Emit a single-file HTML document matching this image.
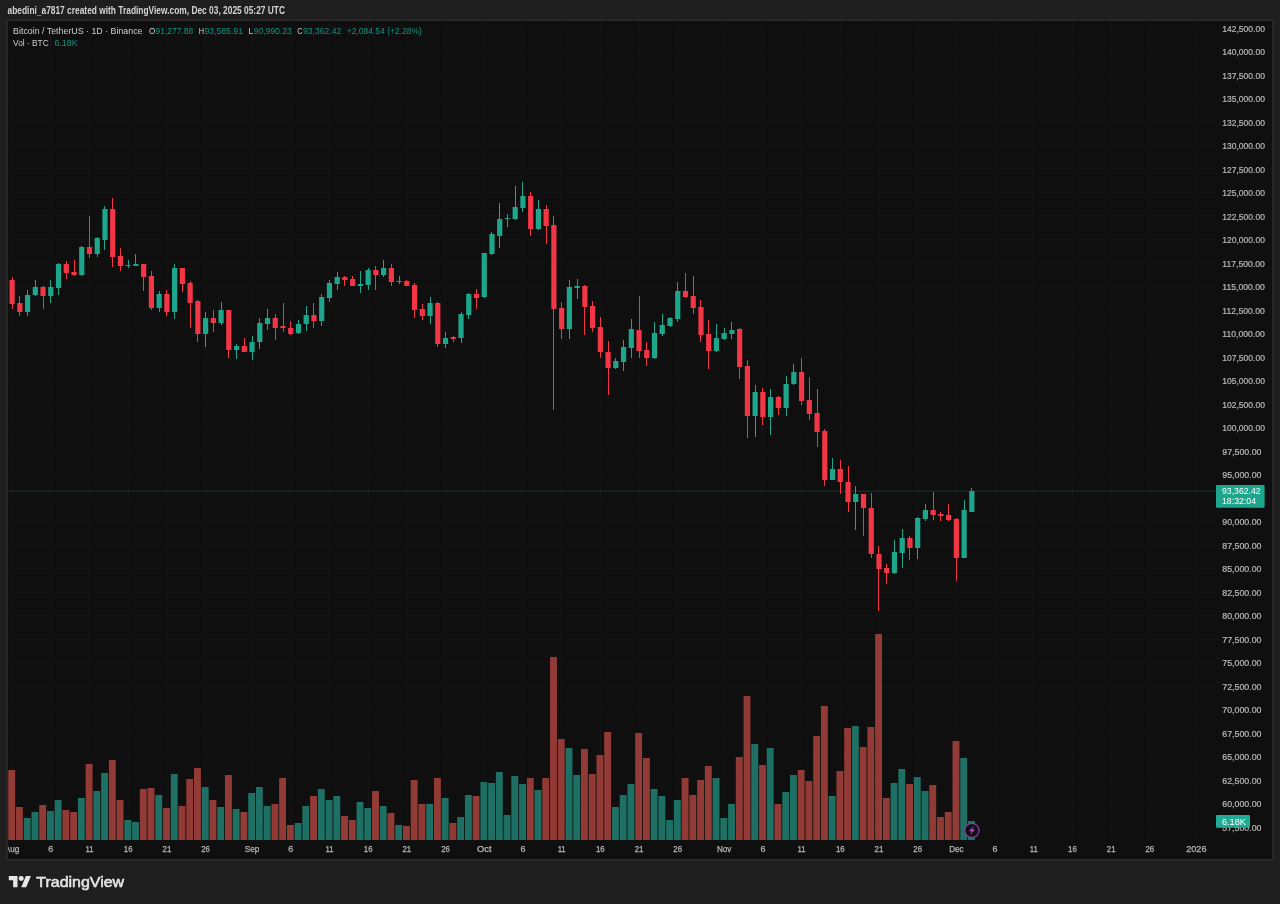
<!DOCTYPE html><html><head><meta charset="utf-8"><style>
html,body{margin:0;padding:0;width:1280px;height:904px;overflow:hidden;background:#1e1e1e;}
svg{display:block;font-family:"Liberation Sans",sans-serif;will-change:transform;}
</style></head><body>
<svg width="1280" height="904" viewBox="0 0 1280 904">
<text x="7.50" y="13.60" font-size="10.3" fill="#d4d4d4" font-weight="bold" textLength="277.50" lengthAdjust="spacingAndGlyphs">abedini_a7817 created with TradingView.com, Dec 03, 2025 05:27 UTC</text>
<rect x="6" y="19" width="1268" height="842" fill="#282828"/>
<rect x="8" y="21" width="1264" height="838" fill="#0f0f0f"/>
<svg x="8" y="21" width="1264" height="838" viewBox="8 21 1264 838" overflow="hidden">
<path d="M12.5 21V840M50.5 21V840M89.5 21V840M128.5 21V840M166.5 21V840M205.5 21V840M252.5 21V840M290.5 21V840M329.5 21V840M368.5 21V840M406.5 21V840M445.5 21V840M484.5 21V840M522.5 21V840M561.5 21V840M600.5 21V840M639.5 21V840M677.5 21V840M724.5 21V840M762.5 21V840M801.5 21V840M840.5 21V840M878.5 21V840M917.5 21V840M956.5 21V840M995.5 21V840M1033.5 21V840M1072.5 21V840M1111.5 21V840M1149.5 21V840M1196.5 21V840" stroke="#141414" stroke-width="1" fill="none" shape-rendering="crispEdges"/>
<path d="M8 27.5H1215M8 51.5H1215M8 74.5H1215M8 98.5H1215M8 121.5H1215M8 145.5H1215M8 168.5H1215M8 192.5H1215M8 215.5H1215M8 239.5H1215M8 262.5H1215M8 286.5H1215M8 309.5H1215M8 333.5H1215M8 356.5H1215M8 380.5H1215M8 403.5H1215M8 427.5H1215M8 450.5H1215M8 474.5H1215M8 498.5H1215M8 521.5H1215M8 545.5H1215M8 568.5H1215M8 592.5H1215M8 615.5H1215M8 639.5H1215M8 662.5H1215M8 686.5H1215M8 709.5H1215M8 733.5H1215M8 756.5H1215M8 780.5H1215M8 803.5H1215M8 827.5H1215" stroke="#121212" stroke-width="1" fill="none" shape-rendering="crispEdges"/>
<path d="M23.73 818h6.9V840h-6.9ZM31.47 812h6.9V840h-6.9ZM46.95 811h6.9V840h-6.9ZM54.69 800h6.9V840h-6.9ZM77.91 798h6.9V840h-6.9ZM93.39 791h6.9V840h-6.9ZM101.13 773h6.9V840h-6.9ZM124.35 820h6.9V840h-6.9ZM132.09 822h6.9V840h-6.9ZM155.31 795h6.9V840h-6.9ZM170.79 774h6.9V840h-6.9ZM201.75 787h6.9V840h-6.9ZM217.23 807h6.9V840h-6.9ZM232.71 809h6.9V840h-6.9ZM248.19 793h6.9V840h-6.9ZM255.93 787h6.9V840h-6.9ZM263.67 806h6.9V840h-6.9ZM294.63 823h6.9V840h-6.9ZM302.37 806h6.9V840h-6.9ZM317.85 789h6.9V840h-6.9ZM325.59 800h6.9V840h-6.9ZM333.33 796h6.9V840h-6.9ZM356.55 802h6.9V840h-6.9ZM364.29 808h6.9V840h-6.9ZM379.77 806h6.9V840h-6.9ZM395.25 825h6.9V840h-6.9ZM426.21 804h6.9V840h-6.9ZM441.69 798h6.9V840h-6.9ZM457.17 817h6.9V840h-6.9ZM464.91 795h6.9V840h-6.9ZM480.39 782h6.9V840h-6.9ZM488.13 783h6.9V840h-6.9ZM495.87 772h6.9V840h-6.9ZM503.61 815h6.9V840h-6.9ZM511.35 776h6.9V840h-6.9ZM519.09 784h6.9V840h-6.9ZM534.57 790h6.9V840h-6.9ZM565.53 748h6.9V840h-6.9ZM573.27 775h6.9V840h-6.9ZM611.97 807h6.9V840h-6.9ZM619.71 795h6.9V840h-6.9ZM627.45 784h6.9V840h-6.9ZM650.67 789h6.9V840h-6.9ZM658.41 796h6.9V840h-6.9ZM666.15 820h6.9V840h-6.9ZM673.89 800h6.9V840h-6.9ZM712.59 778h6.9V840h-6.9ZM720.33 818h6.9V840h-6.9ZM728.07 804h6.9V840h-6.9ZM751.29 744h6.9V840h-6.9ZM766.77 748h6.9V840h-6.9ZM782.25 792h6.9V840h-6.9ZM789.99 775h6.9V840h-6.9ZM828.69 796h6.9V840h-6.9ZM851.91 726h6.9V840h-6.9ZM890.61 783h6.9V840h-6.9ZM898.35 769h6.9V840h-6.9ZM913.83 777h6.9V840h-6.9ZM921.57 791h6.9V840h-6.9ZM960.27 758h6.9V840h-6.9ZM968.01 821h6.9V840h-6.9Z" fill="#1d7063"/>
<path d="M8.25 770h6.9V840h-6.9ZM15.99 807h6.9V840h-6.9ZM39.21 805h6.9V840h-6.9ZM62.43 810h6.9V840h-6.9ZM70.17 812h6.9V840h-6.9ZM85.65 764h6.9V840h-6.9ZM108.87 760h6.9V840h-6.9ZM116.61 800h6.9V840h-6.9ZM139.83 789h6.9V840h-6.9ZM147.57 788h6.9V840h-6.9ZM163.05 808h6.9V840h-6.9ZM178.53 806h6.9V840h-6.9ZM186.27 779h6.9V840h-6.9ZM194.01 768h6.9V840h-6.9ZM209.49 800h6.9V840h-6.9ZM224.97 775h6.9V840h-6.9ZM240.45 812h6.9V840h-6.9ZM271.41 804h6.9V840h-6.9ZM279.15 778h6.9V840h-6.9ZM286.89 825h6.9V840h-6.9ZM310.11 796h6.9V840h-6.9ZM341.07 816h6.9V840h-6.9ZM348.81 820h6.9V840h-6.9ZM372.03 791h6.9V840h-6.9ZM387.51 813h6.9V840h-6.9ZM402.99 826h6.9V840h-6.9ZM410.73 780h6.9V840h-6.9ZM418.47 804h6.9V840h-6.9ZM433.95 778h6.9V840h-6.9ZM449.43 823h6.9V840h-6.9ZM472.65 796h6.9V840h-6.9ZM526.83 778h6.9V840h-6.9ZM542.31 778h6.9V840h-6.9ZM550.05 657h6.9V840h-6.9ZM557.79 739h6.9V840h-6.9ZM581.01 749h6.9V840h-6.9ZM588.75 774h6.9V840h-6.9ZM596.49 755h6.9V840h-6.9ZM604.23 732h6.9V840h-6.9ZM635.19 733h6.9V840h-6.9ZM642.93 758h6.9V840h-6.9ZM681.63 778h6.9V840h-6.9ZM689.37 795h6.9V840h-6.9ZM697.11 780h6.9V840h-6.9ZM704.85 766h6.9V840h-6.9ZM735.81 757h6.9V840h-6.9ZM743.55 696h6.9V840h-6.9ZM759.03 765h6.9V840h-6.9ZM774.51 804h6.9V840h-6.9ZM797.73 770h6.9V840h-6.9ZM805.47 781h6.9V840h-6.9ZM813.21 736h6.9V840h-6.9ZM820.95 706h6.9V840h-6.9ZM836.43 771h6.9V840h-6.9ZM844.17 728h6.9V840h-6.9ZM859.65 747h6.9V840h-6.9ZM867.39 727h6.9V840h-6.9ZM875.13 634h6.9V840h-6.9ZM882.87 798h6.9V840h-6.9ZM906.09 784h6.9V840h-6.9ZM929.31 785h6.9V840h-6.9ZM937.05 817h6.9V840h-6.9ZM944.79 812h6.9V840h-6.9ZM952.53 741h6.9V840h-6.9Z" fill="#923a36"/>
<path d="M8 491.2H1216" stroke="#1ea68c" stroke-width="1.6" opacity="0.19"/>
<path d="M27 290h1V316h-1ZM24.98 295h5.2V312h-5.2ZM35 280h1V296h-1ZM32.72 287h5.2V295h-5.2ZM50 280h1V303h-1ZM48.20 287h5.2V296h-5.2ZM58 263h1V295h-1ZM55.94 264h5.2V288h-5.2ZM81 246h1V276h-1ZM79.16 247h5.2V275h-5.2ZM97 237h1V257h-1ZM94.64 238h5.2V254h-5.2ZM104 206h1V250h-1ZM102.38 209h5.2V240h-5.2ZM128 260h1V268h-1ZM125.60 265h5.2V266h-5.2ZM135 254h1V266h-1ZM133.34 264h5.2V266h-5.2ZM159 291h1V312h-1ZM156.56 294h5.2V308h-5.2ZM174 264h1V319h-1ZM172.04 268h5.2V312h-5.2ZM205 312h1V347h-1ZM203.00 318h5.2V334h-5.2ZM221 302h1V325h-1ZM218.48 310h5.2V323h-5.2ZM236 344h1V359h-1ZM233.96 346h5.2V350h-5.2ZM252 336h1V360h-1ZM249.44 342h5.2V352h-5.2ZM259 318h1V349h-1ZM257.18 323h5.2V342h-5.2ZM267 309h1V330h-1ZM264.92 318h5.2V324h-5.2ZM298 320h1V334h-1ZM295.88 324h5.2V333h-5.2ZM306 306h1V331h-1ZM303.62 315h5.2V324h-5.2ZM321 294h1V326h-1ZM319.10 297h5.2V321h-5.2ZM329 280h1V302h-1ZM326.84 283h5.2V298h-5.2ZM337 272h1V290h-1ZM334.58 277h5.2V284h-5.2ZM360 271h1V293h-1ZM357.80 284h5.2V286h-5.2ZM368 268h1V290h-1ZM365.54 270h5.2V285h-5.2ZM383 260h1V277h-1ZM381.02 268h5.2V275h-5.2ZM399 276h1V284h-1ZM396.50 281h5.2V282h-5.2ZM430 297h1V324h-1ZM427.46 303h5.2V316h-5.2ZM445 332h1V348h-1ZM442.94 338h5.2V344h-5.2ZM461 312h1V343h-1ZM458.42 314h5.2V338h-5.2ZM468 293h1V319h-1ZM466.16 294h5.2V315h-5.2ZM484 253h1V298h-1ZM481.64 253h5.2V297h-5.2ZM491 232h1V255h-1ZM489.38 234h5.2V254h-5.2ZM499 203h1V248h-1ZM497.12 219h5.2V236h-5.2ZM507 214h1V227h-1ZM504.86 218h5.2V219h-5.2ZM515 186h1V220h-1ZM512.60 207h5.2V219h-5.2ZM522 182h1V212h-1ZM520.34 196h5.2V208h-5.2ZM538 200h1V230h-1ZM535.82 209h5.2V229h-5.2ZM569 280h1V339h-1ZM566.78 287h5.2V329h-5.2ZM577 279h1V299h-1ZM574.52 286h5.2V288h-5.2ZM615 358h1V369h-1ZM613.22 361h5.2V368h-5.2ZM623 340h1V371h-1ZM620.96 347h5.2V362h-5.2ZM631 319h1V358h-1ZM628.70 329h5.2V348h-5.2ZM654 322h1V359h-1ZM651.92 333h5.2V358h-5.2ZM662 314h1V336h-1ZM659.66 325h5.2V334h-5.2ZM670 317h1V327h-1ZM667.40 318h5.2V326h-5.2ZM677 282h1V322h-1ZM675.14 291h5.2V319h-5.2ZM716 324h1V352h-1ZM713.84 338h5.2V351h-5.2ZM724 328h1V340h-1ZM721.58 333h5.2V339h-5.2ZM731 322h1V339h-1ZM729.32 330h5.2V334h-5.2ZM755 385h1V437h-1ZM752.54 392h5.2V416h-5.2ZM770 389h1V435h-1ZM768.02 397h5.2V417h-5.2ZM786 376h1V416h-1ZM783.50 384h5.2V408h-5.2ZM793 364h1V385h-1ZM791.24 372h5.2V384h-5.2ZM832 458h1V480h-1ZM829.94 469h5.2V480h-5.2ZM855 486h1V530h-1ZM853.16 494h5.2V502h-5.2ZM894 540h1V574h-1ZM891.86 552h5.2V573h-5.2ZM902 529h1V568h-1ZM899.60 538h5.2V553h-5.2ZM917 517h1V559h-1ZM915.08 518h5.2V548h-5.2ZM925 504h1V521h-1ZM922.82 510h5.2V519h-5.2ZM964 500h1V558h-1ZM961.52 510h5.2V558h-5.2ZM971 488h1V512h-1ZM969.26 491h5.2V512h-5.2Z" fill="#1ea68c"/>
<path d="M12 277h1V309h-1ZM9.50 280h5.2V304h-5.2ZM19 296h1V316h-1ZM17.24 303h5.2V312h-5.2ZM43 286h1V309h-1ZM40.46 287h5.2V296h-5.2ZM66 261h1V279h-1ZM63.68 264h5.2V273h-5.2ZM74 260h1V276h-1ZM71.42 272h5.2V275h-5.2ZM89 216h1V258h-1ZM86.90 247h5.2V254h-5.2ZM112 198h1V267h-1ZM110.12 209h5.2V257h-5.2ZM120 248h1V271h-1ZM117.86 256h5.2V266h-5.2ZM143 264h1V291h-1ZM141.08 264h5.2V277h-5.2ZM151 271h1V310h-1ZM148.82 276h5.2V308h-5.2ZM166 290h1V316h-1ZM164.30 294h5.2V312h-5.2ZM182 268h1V292h-1ZM179.78 268h5.2V284h-5.2ZM190 281h1V328h-1ZM187.52 283h5.2V303h-5.2ZM197 300h1V342h-1ZM195.26 301h5.2V334h-5.2ZM213 310h1V332h-1ZM210.74 318h5.2V323h-5.2ZM228 310h1V358h-1ZM226.22 310h5.2V350h-5.2ZM244 338h1V352h-1ZM241.70 346h5.2V352h-5.2ZM275 314h1V340h-1ZM272.66 318h5.2V328h-5.2ZM283 303h1V332h-1ZM280.40 326h5.2V328h-5.2ZM290 321h1V335h-1ZM288.14 328h5.2V334h-5.2ZM313 303h1V328h-1ZM311.36 315h5.2V321h-5.2ZM344 276h1V286h-1ZM342.32 277h5.2V280h-5.2ZM352 276h1V286h-1ZM350.06 279h5.2V286h-5.2ZM375 266h1V290h-1ZM373.28 270h5.2V275h-5.2ZM391 264h1V286h-1ZM388.76 268h5.2V282h-5.2ZM406 280h1V286h-1ZM404.24 281h5.2V286h-5.2ZM414 283h1V318h-1ZM411.98 285h5.2V310h-5.2ZM422 304h1V320h-1ZM419.72 309h5.2V316h-5.2ZM437 302h1V347h-1ZM435.20 303h5.2V344h-5.2ZM453 336h1V342h-1ZM450.68 337h5.2V339h-5.2ZM476 289h1V309h-1ZM473.90 294h5.2V298h-5.2ZM530 192h1V236h-1ZM528.08 196h5.2V229h-5.2ZM546 205h1V244h-1ZM543.56 209h5.2V226h-5.2ZM553 216h1V410h-1ZM551.30 225h5.2V309h-5.2ZM561 302h1V339h-1ZM559.04 308h5.2V329h-5.2ZM584 285h1V335h-1ZM582.26 286h5.2V307h-5.2ZM592 301h1V332h-1ZM590.00 306h5.2V328h-5.2ZM600 317h1V358h-1ZM597.74 327h5.2V352h-5.2ZM608 341h1V395h-1ZM605.48 352h5.2V368h-5.2ZM639 296h1V358h-1ZM636.44 330h5.2V351h-5.2ZM646 342h1V366h-1ZM644.18 350h5.2V358h-5.2ZM685 273h1V298h-1ZM682.88 291h5.2V297h-5.2ZM693 276h1V314h-1ZM690.62 296h5.2V308h-5.2ZM700 300h1V342h-1ZM698.36 307h5.2V335h-5.2ZM708 320h1V369h-1ZM706.10 334h5.2V351h-5.2ZM739 328h1V379h-1ZM737.06 329h5.2V367h-5.2ZM747 360h1V438h-1ZM744.80 366h5.2V416h-5.2ZM762 388h1V425h-1ZM760.28 392h5.2V417h-5.2ZM778 396h1V415h-1ZM775.76 397h5.2V408h-5.2ZM801 358h1V405h-1ZM798.98 372h5.2V401h-5.2ZM809 377h1V420h-1ZM806.72 400h5.2V414h-5.2ZM817 389h1V447h-1ZM814.46 413h5.2V432h-5.2ZM824 429h1V486h-1ZM822.20 431h5.2V480h-5.2ZM840 460h1V494h-1ZM837.68 469h5.2V482h-5.2ZM848 466h1V512h-1ZM845.42 482h5.2V502h-5.2ZM863 494h1V536h-1ZM860.90 494h5.2V508h-5.2ZM871 493h1V558h-1ZM868.64 508h5.2V554h-5.2ZM878 546h1V611h-1ZM876.38 554h5.2V569h-5.2ZM886 564h1V584h-1ZM884.12 568h5.2V573h-5.2ZM909 536h1V560h-1ZM907.34 538h5.2V548h-5.2ZM933 492h1V520h-1ZM930.56 510h5.2V515h-5.2ZM940 512h1V521h-1ZM938.30 514h5.2V516h-5.2ZM948 504h1V521h-1ZM946.04 515h5.2V520h-5.2ZM956 518h1V581h-1ZM953.78 519h5.2V558h-5.2Z" fill="#f23645"/>
<text stroke="#b8b8b8" stroke-width="0.25" x="4.85" y="852.10" font-size="9.4" fill="#b8b8b8" textLength="14.50" lengthAdjust="spacingAndGlyphs">Aug</text>
<text stroke="#b8b8b8" stroke-width="0.25" x="48.30" y="852.10" font-size="9.4" fill="#b8b8b8" textLength="5.00" lengthAdjust="spacingAndGlyphs">6</text>
<text stroke="#b8b8b8" stroke-width="0.25" x="85.50" y="852.10" font-size="9.4" fill="#b8b8b8" textLength="8.00" lengthAdjust="spacingAndGlyphs">11</text>
<text stroke="#b8b8b8" stroke-width="0.25" x="123.80" y="852.10" font-size="9.4" fill="#b8b8b8" textLength="8.80" lengthAdjust="spacingAndGlyphs">16</text>
<text stroke="#b8b8b8" stroke-width="0.25" x="162.50" y="852.10" font-size="9.4" fill="#b8b8b8" textLength="8.80" lengthAdjust="spacingAndGlyphs">21</text>
<text stroke="#b8b8b8" stroke-width="0.25" x="201.20" y="852.10" font-size="9.4" fill="#b8b8b8" textLength="8.80" lengthAdjust="spacingAndGlyphs">26</text>
<text stroke="#b8b8b8" stroke-width="0.25" x="244.79" y="852.10" font-size="9.4" fill="#b8b8b8" textLength="14.50" lengthAdjust="spacingAndGlyphs">Sep</text>
<text stroke="#b8b8b8" stroke-width="0.25" x="288.24" y="852.10" font-size="9.4" fill="#b8b8b8" textLength="5.00" lengthAdjust="spacingAndGlyphs">6</text>
<text stroke="#b8b8b8" stroke-width="0.25" x="325.44" y="852.10" font-size="9.4" fill="#b8b8b8" textLength="8.00" lengthAdjust="spacingAndGlyphs">11</text>
<text stroke="#b8b8b8" stroke-width="0.25" x="363.74" y="852.10" font-size="9.4" fill="#b8b8b8" textLength="8.80" lengthAdjust="spacingAndGlyphs">16</text>
<text stroke="#b8b8b8" stroke-width="0.25" x="402.44" y="852.10" font-size="9.4" fill="#b8b8b8" textLength="8.80" lengthAdjust="spacingAndGlyphs">21</text>
<text stroke="#b8b8b8" stroke-width="0.25" x="441.14" y="852.10" font-size="9.4" fill="#b8b8b8" textLength="8.80" lengthAdjust="spacingAndGlyphs">26</text>
<text stroke="#b8b8b8" stroke-width="0.25" x="476.99" y="852.10" font-size="9.4" fill="#b8b8b8" textLength="14.50" lengthAdjust="spacingAndGlyphs">Oct</text>
<text stroke="#b8b8b8" stroke-width="0.25" x="520.44" y="852.10" font-size="9.4" fill="#b8b8b8" textLength="5.00" lengthAdjust="spacingAndGlyphs">6</text>
<text stroke="#b8b8b8" stroke-width="0.25" x="557.64" y="852.10" font-size="9.4" fill="#b8b8b8" textLength="8.00" lengthAdjust="spacingAndGlyphs">11</text>
<text stroke="#b8b8b8" stroke-width="0.25" x="595.94" y="852.10" font-size="9.4" fill="#b8b8b8" textLength="8.80" lengthAdjust="spacingAndGlyphs">16</text>
<text stroke="#b8b8b8" stroke-width="0.25" x="634.64" y="852.10" font-size="9.4" fill="#b8b8b8" textLength="8.80" lengthAdjust="spacingAndGlyphs">21</text>
<text stroke="#b8b8b8" stroke-width="0.25" x="673.34" y="852.10" font-size="9.4" fill="#b8b8b8" textLength="8.80" lengthAdjust="spacingAndGlyphs">26</text>
<text stroke="#b8b8b8" stroke-width="0.25" x="716.93" y="852.10" font-size="9.4" fill="#b8b8b8" textLength="14.50" lengthAdjust="spacingAndGlyphs">Nov</text>
<text stroke="#b8b8b8" stroke-width="0.25" x="760.38" y="852.10" font-size="9.4" fill="#b8b8b8" textLength="5.00" lengthAdjust="spacingAndGlyphs">6</text>
<text stroke="#b8b8b8" stroke-width="0.25" x="797.58" y="852.10" font-size="9.4" fill="#b8b8b8" textLength="8.00" lengthAdjust="spacingAndGlyphs">11</text>
<text stroke="#b8b8b8" stroke-width="0.25" x="835.88" y="852.10" font-size="9.4" fill="#b8b8b8" textLength="8.80" lengthAdjust="spacingAndGlyphs">16</text>
<text stroke="#b8b8b8" stroke-width="0.25" x="874.58" y="852.10" font-size="9.4" fill="#b8b8b8" textLength="8.80" lengthAdjust="spacingAndGlyphs">21</text>
<text stroke="#b8b8b8" stroke-width="0.25" x="913.28" y="852.10" font-size="9.4" fill="#b8b8b8" textLength="8.80" lengthAdjust="spacingAndGlyphs">26</text>
<text stroke="#b8b8b8" stroke-width="0.25" x="949.13" y="852.10" font-size="9.4" fill="#b8b8b8" textLength="14.50" lengthAdjust="spacingAndGlyphs">Dec</text>
<text stroke="#b8b8b8" stroke-width="0.25" x="992.58" y="852.10" font-size="9.4" fill="#b8b8b8" textLength="5.00" lengthAdjust="spacingAndGlyphs">6</text>
<text stroke="#b8b8b8" stroke-width="0.25" x="1029.78" y="852.10" font-size="9.4" fill="#b8b8b8" textLength="8.00" lengthAdjust="spacingAndGlyphs">11</text>
<text stroke="#b8b8b8" stroke-width="0.25" x="1068.08" y="852.10" font-size="9.4" fill="#b8b8b8" textLength="8.80" lengthAdjust="spacingAndGlyphs">16</text>
<text stroke="#b8b8b8" stroke-width="0.25" x="1106.78" y="852.10" font-size="9.4" fill="#b8b8b8" textLength="8.80" lengthAdjust="spacingAndGlyphs">21</text>
<text stroke="#b8b8b8" stroke-width="0.25" x="1145.48" y="852.10" font-size="9.4" fill="#b8b8b8" textLength="8.80" lengthAdjust="spacingAndGlyphs">26</text>
<text stroke="#b8b8b8" stroke-width="0.25" x="1186.17" y="852.10" font-size="9.4" fill="#b8b8b8" textLength="20.30" lengthAdjust="spacingAndGlyphs">2026</text>
</svg>
<text x="13.10" y="33.80" font-size="9.9" fill="#cfcfcf" textLength="129.40" lengthAdjust="spacingAndGlyphs">Bitcoin / TetherUS · 1D · Binance</text>
<text x="148.90" y="33.80" font-size="9.9" fill="#cfcfcf" textLength="6.30" lengthAdjust="spacingAndGlyphs">O</text>
<text x="155.60" y="33.80" font-size="9.9" fill="#119580" textLength="37.50" lengthAdjust="spacingAndGlyphs">91,277.88</text>
<text x="198.70" y="33.80" font-size="9.9" fill="#cfcfcf" textLength="5.30" lengthAdjust="spacingAndGlyphs">H</text>
<text x="204.40" y="33.80" font-size="9.9" fill="#119580" textLength="38.60" lengthAdjust="spacingAndGlyphs">93,585.91</text>
<text x="248.60" y="33.80" font-size="9.9" fill="#cfcfcf" textLength="4.80" lengthAdjust="spacingAndGlyphs">L</text>
<text x="253.80" y="33.80" font-size="9.9" fill="#119580" textLength="37.90" lengthAdjust="spacingAndGlyphs">90,990.23</text>
<text x="297.30" y="33.80" font-size="9.9" fill="#cfcfcf" textLength="5.30" lengthAdjust="spacingAndGlyphs">C</text>
<text x="303.00" y="33.80" font-size="9.9" fill="#119580" textLength="38.20" lengthAdjust="spacingAndGlyphs">93,362.42</text>
<text x="346.80" y="33.80" font-size="9.9" fill="#119580" textLength="75.00" lengthAdjust="spacingAndGlyphs">+2,084.54 (+2.28%)</text>
<text x="13.10" y="46.30" font-size="9.9" fill="#cfcfcf" textLength="35.60" lengthAdjust="spacingAndGlyphs">Vol · BTC</text>
<text x="54.40" y="46.30" font-size="9.9" fill="#119580" textLength="23.20" lengthAdjust="spacingAndGlyphs">6.18K</text>
<text stroke="#b8b8b8" stroke-width="0.22" x="1222.30" y="31.50" font-size="9" fill="#b8b8b8" textLength="42.60" lengthAdjust="spacingAndGlyphs">142,500.00</text>
<text stroke="#b8b8b8" stroke-width="0.22" x="1222.30" y="55.01" font-size="9" fill="#b8b8b8" textLength="42.60" lengthAdjust="spacingAndGlyphs">140,000.00</text>
<text stroke="#b8b8b8" stroke-width="0.22" x="1222.30" y="78.51" font-size="9" fill="#b8b8b8" textLength="42.60" lengthAdjust="spacingAndGlyphs">137,500.00</text>
<text stroke="#b8b8b8" stroke-width="0.22" x="1222.30" y="102.01" font-size="9" fill="#b8b8b8" textLength="42.60" lengthAdjust="spacingAndGlyphs">135,000.00</text>
<text stroke="#b8b8b8" stroke-width="0.22" x="1222.30" y="125.52" font-size="9" fill="#b8b8b8" textLength="42.60" lengthAdjust="spacingAndGlyphs">132,500.00</text>
<text stroke="#b8b8b8" stroke-width="0.22" x="1222.30" y="149.03" font-size="9" fill="#b8b8b8" textLength="42.60" lengthAdjust="spacingAndGlyphs">130,000.00</text>
<text stroke="#b8b8b8" stroke-width="0.22" x="1222.30" y="172.53" font-size="9" fill="#b8b8b8" textLength="42.60" lengthAdjust="spacingAndGlyphs">127,500.00</text>
<text stroke="#b8b8b8" stroke-width="0.22" x="1222.30" y="196.04" font-size="9" fill="#b8b8b8" textLength="42.60" lengthAdjust="spacingAndGlyphs">125,000.00</text>
<text stroke="#b8b8b8" stroke-width="0.22" x="1222.30" y="219.54" font-size="9" fill="#b8b8b8" textLength="42.60" lengthAdjust="spacingAndGlyphs">122,500.00</text>
<text stroke="#b8b8b8" stroke-width="0.22" x="1222.30" y="243.05" font-size="9" fill="#b8b8b8" textLength="42.60" lengthAdjust="spacingAndGlyphs">120,000.00</text>
<text stroke="#b8b8b8" stroke-width="0.22" x="1222.30" y="266.55" font-size="9" fill="#b8b8b8" textLength="42.60" lengthAdjust="spacingAndGlyphs">117,500.00</text>
<text stroke="#b8b8b8" stroke-width="0.22" x="1222.30" y="290.06" font-size="9" fill="#b8b8b8" textLength="42.60" lengthAdjust="spacingAndGlyphs">115,000.00</text>
<text stroke="#b8b8b8" stroke-width="0.22" x="1222.30" y="313.56" font-size="9" fill="#b8b8b8" textLength="42.60" lengthAdjust="spacingAndGlyphs">112,500.00</text>
<text stroke="#b8b8b8" stroke-width="0.22" x="1222.30" y="337.06" font-size="9" fill="#b8b8b8" textLength="42.60" lengthAdjust="spacingAndGlyphs">110,000.00</text>
<text stroke="#b8b8b8" stroke-width="0.22" x="1222.30" y="360.57" font-size="9" fill="#b8b8b8" textLength="42.60" lengthAdjust="spacingAndGlyphs">107,500.00</text>
<text stroke="#b8b8b8" stroke-width="0.22" x="1222.30" y="384.08" font-size="9" fill="#b8b8b8" textLength="42.60" lengthAdjust="spacingAndGlyphs">105,000.00</text>
<text stroke="#b8b8b8" stroke-width="0.22" x="1222.30" y="407.58" font-size="9" fill="#b8b8b8" textLength="42.60" lengthAdjust="spacingAndGlyphs">102,500.00</text>
<text stroke="#b8b8b8" stroke-width="0.22" x="1222.30" y="431.09" font-size="9" fill="#b8b8b8" textLength="42.60" lengthAdjust="spacingAndGlyphs">100,000.00</text>
<text stroke="#b8b8b8" stroke-width="0.22" x="1222.30" y="454.59" font-size="9" fill="#b8b8b8" textLength="39.20" lengthAdjust="spacingAndGlyphs">97,500.00</text>
<text stroke="#b8b8b8" stroke-width="0.22" x="1222.30" y="478.10" font-size="9" fill="#b8b8b8" textLength="39.20" lengthAdjust="spacingAndGlyphs">95,000.00</text>
<text stroke="#b8b8b8" stroke-width="0.22" x="1222.30" y="501.60" font-size="9" fill="#b8b8b8" textLength="39.20" lengthAdjust="spacingAndGlyphs">92,500.00</text>
<text stroke="#b8b8b8" stroke-width="0.22" x="1222.30" y="525.11" font-size="9" fill="#b8b8b8" textLength="39.20" lengthAdjust="spacingAndGlyphs">90,000.00</text>
<text stroke="#b8b8b8" stroke-width="0.22" x="1222.30" y="548.61" font-size="9" fill="#b8b8b8" textLength="39.20" lengthAdjust="spacingAndGlyphs">87,500.00</text>
<text stroke="#b8b8b8" stroke-width="0.22" x="1222.30" y="572.12" font-size="9" fill="#b8b8b8" textLength="39.20" lengthAdjust="spacingAndGlyphs">85,000.00</text>
<text stroke="#b8b8b8" stroke-width="0.22" x="1222.30" y="595.62" font-size="9" fill="#b8b8b8" textLength="39.20" lengthAdjust="spacingAndGlyphs">82,500.00</text>
<text stroke="#b8b8b8" stroke-width="0.22" x="1222.30" y="619.12" font-size="9" fill="#b8b8b8" textLength="39.20" lengthAdjust="spacingAndGlyphs">80,000.00</text>
<text stroke="#b8b8b8" stroke-width="0.22" x="1222.30" y="642.63" font-size="9" fill="#b8b8b8" textLength="39.20" lengthAdjust="spacingAndGlyphs">77,500.00</text>
<text stroke="#b8b8b8" stroke-width="0.22" x="1222.30" y="666.13" font-size="9" fill="#b8b8b8" textLength="39.20" lengthAdjust="spacingAndGlyphs">75,000.00</text>
<text stroke="#b8b8b8" stroke-width="0.22" x="1222.30" y="689.64" font-size="9" fill="#b8b8b8" textLength="39.20" lengthAdjust="spacingAndGlyphs">72,500.00</text>
<text stroke="#b8b8b8" stroke-width="0.22" x="1222.30" y="713.15" font-size="9" fill="#b8b8b8" textLength="39.20" lengthAdjust="spacingAndGlyphs">70,000.00</text>
<text stroke="#b8b8b8" stroke-width="0.22" x="1222.30" y="736.65" font-size="9" fill="#b8b8b8" textLength="39.20" lengthAdjust="spacingAndGlyphs">67,500.00</text>
<text stroke="#b8b8b8" stroke-width="0.22" x="1222.30" y="760.16" font-size="9" fill="#b8b8b8" textLength="39.20" lengthAdjust="spacingAndGlyphs">65,000.00</text>
<text stroke="#b8b8b8" stroke-width="0.22" x="1222.30" y="783.66" font-size="9" fill="#b8b8b8" textLength="39.20" lengthAdjust="spacingAndGlyphs">62,500.00</text>
<text stroke="#b8b8b8" stroke-width="0.22" x="1222.30" y="807.17" font-size="9" fill="#b8b8b8" textLength="39.20" lengthAdjust="spacingAndGlyphs">60,000.00</text>
<text stroke="#b8b8b8" stroke-width="0.22" x="1222.30" y="830.67" font-size="9" fill="#b8b8b8" textLength="39.20" lengthAdjust="spacingAndGlyphs">57,500.00</text>
<rect x="1216" y="485" width="48.6" height="22.8" rx="1" fill="#1ea68c"/>
<text x="1222.00" y="494.00" font-size="9.4" fill="#ffffff" textLength="38.60" lengthAdjust="spacingAndGlyphs">93,362.42</text>
<text x="1222.00" y="503.80" font-size="9.4" fill="#ffffff" textLength="34.00" lengthAdjust="spacingAndGlyphs">18:32:04</text>
<rect x="1216" y="815" width="34" height="12.8" rx="1" fill="#22ab94"/>
<text x="1221.90" y="824.70" font-size="9.4" fill="#ffffff" textLength="24.00" lengthAdjust="spacingAndGlyphs">6.18K</text>
<circle cx="971.9" cy="830.4" r="7.1" fill="#120f12" stroke="#8b3aa0" stroke-width="1.3"/>
<path d="M974 825.8 L969 831.2 H972 L969.8 835.2 L975 829.6 H972 Z" fill="#b84fd0"/>
<g transform="translate(8.8 873.5) scale(0.622)" fill="#e6e6e6"><path d="M14 22H7V11H0V4h14v18zM28 22h-8l7.5-18h8L28 22z"/><circle cx="20" cy="8" r="4"/></g>
<text stroke="#e6e6e6" stroke-width="0.55" x="36.30" y="886.80" font-size="14.6" fill="#e6e6e6" textLength="87.80" lengthAdjust="spacingAndGlyphs">TradingView</text>
</svg></body></html>
